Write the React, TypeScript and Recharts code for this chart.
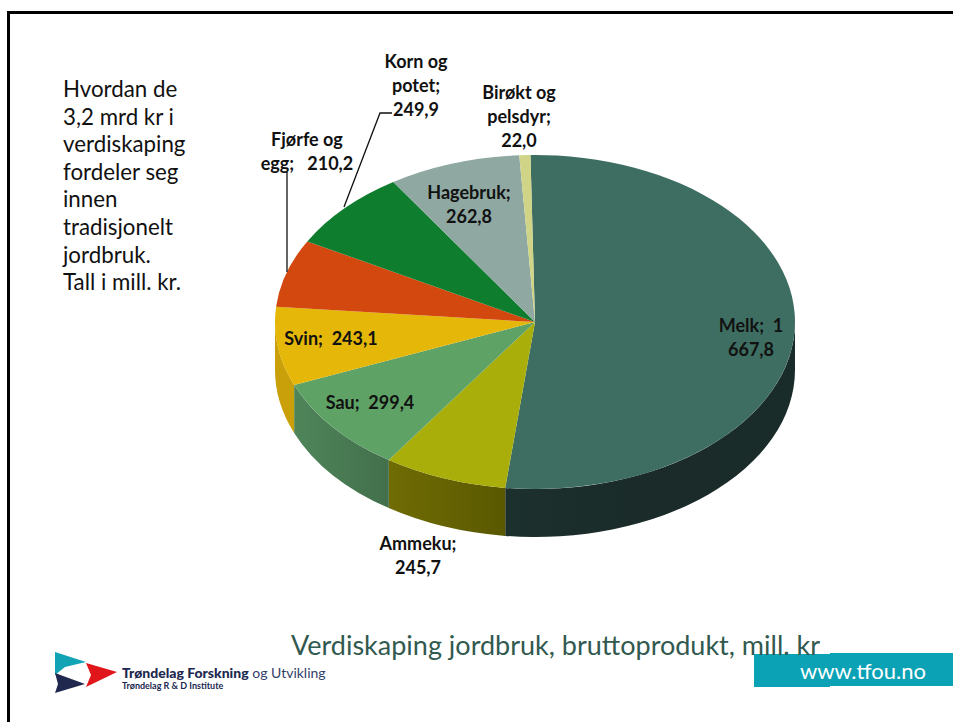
import React from "react";
import { PieChart, Pie, Cell } from "recharts";

const categories = ["Melk", "Ammeku", "Sau", "Svin", "Fjørfe og egg", "Korn og potet", "Hagebruk", "Birøkt og pelsdyr"];
const values = [1667.8, 245.7, 299.4, 243.1, 210.2, 249.9, 262.8, 22.0];
const labelLines = [
  ["Melk;  1", "667,8"],
  ["Ammeku;", "245,7"],
  ["Sau;  299,4"],
  ["Svin;  243,1"],
  ["Fjørfe og", "egg;   210,2"],
  ["Korn og", "potet;", "249,9"],
  ["Hagebruk;", "262,8"],
  ["Birøkt og", "pelsdyr;", "22,0"],
];
const introLines = ["Hvordan de", "3,2 mrd kr i", "verdiskaping", "fordeler seg", "innen", "tradisjonelt", "jordbruk.", "Tall i mill. kr."];
const titleText = "Verdiskaping jordbruk, bruttoprodukt, mill. kr";
const siteText = "www.tfou.no";

const topColors = ["#3e6e62", "#a9ae0a", "#5fa266", "#e5b708", "#d2480f", "#0f7d2e", "#8fa8a2", "#cfd486"];
const wallFills = ["url(#wMelk)", "url(#wAmme)", "url(#wSau)", "#c99f0a", "#a33a0c", "#0b5c22", "#6d807b", "#9ea266"];

const CX = 535;
const CY = 322;
const RX = 260;
const RY = 167;
const DEPTH = 48;
const START = 91;
const labelCenters: [number, number][] = [[751, 326], [418, 544], [370, 403], [331, 339], [307, 140], [416, 62], [469, 193], [519, 93]];
const LINE_GAP = 24;

const data = categories.map((name, i) => ({ name, value: values[i] }));
const ptAt = (deg: number, dy = 0) => {
  const a = (deg * Math.PI) / 180;
  return [CX + RX * Math.cos(a), CY - RY * Math.sin(a) + dy];
};

const TopSector = (p: any) => {
  const [x1, y1] = ptAt(p.startAngle);
  const [x2, y2] = ptAt(p.endAngle);
  const large = Math.abs(p.startAngle - p.endAngle) > 180 ? 1 : 0;
  return <path d={`M${CX},${CY}L${x1},${y1}A${RX},${RY} 0 ${large} 1 ${x2},${y2}Z`} fill={p.fill} stroke="none" />;
};

const WallSector = (p: any) => {
  // Recharts angles run clockwise (decreasing); the visible wall is the 180..360 span.
  const hi = p.startAngle;
  const lo = p.endAngle;
  const spans: [number, number][] = [];
  for (const k of [-360, 0, 360]) {
    const a = Math.min(hi, 360 + k);
    const b = Math.max(lo, 180 + k);
    if (a > b) spans.push([a, b]);
  }
  if (!spans.length) return <g />;
  return (
    <g>
      {spans.map(([a, b], i) => {
        const [x1, y1] = ptAt(a);
        const [x2, y2] = ptAt(b);
        const [x3, y3] = ptAt(b, DEPTH);
        const [x4, y4] = ptAt(a, DEPTH);
        return (
          <path
            key={i}
            d={`M${x1},${y1}A${RX},${RY} 0 0 1 ${x2},${y2}L${x3},${y3}A${RX},${RY} 0 0 0 ${x4},${y4}Z`}
            fill={p.fill}
            stroke="none"
          />
        );
      })}
    </g>
  );
};

const renderLabel = (p: any) => {
  const i = p.index;
  const [x, y] = labelCenters[i];
  return (
    <g key={i}>
      {i === 4 && <polyline points="287,172 287,272" fill="none" stroke="#111" strokeWidth={1.3} />}
      {i === 5 && <polyline points="344,207 380,113 392,113" fill="none" stroke="#111" strokeWidth={1.3} />}
      <text x={x} textAnchor="middle" fontFamily="Lato" fontWeight={700} fontSize={18} fill="#111" style={{ whiteSpace: "pre" }}>
        {labelLines[i].map((t, k) => (
          <tspan key={k} x={x} y={y + k * LINE_GAP + 6}>{t}</tspan>
        ))}
      </text>
    </g>
  );
};

const abs = (style: React.CSSProperties): React.CSSProperties => ({ position: "absolute", whiteSpace: "pre", ...style });

export default function App() {
  return (
    <div style={{ position: "absolute", left: 0, top: 0, width: 953, height: 722, background: "#fff", overflow: "hidden" }}>
      <svg width={953} height={722} style={{ position: "absolute", left: 0, top: 0 }}>
        <defs>
          <linearGradient id="wMelk" gradientUnits="userSpaceOnUse" x1="505" x2="795" y1="0" y2="0">
            <stop offset="0" stopColor="#1c302e" />
            <stop offset="0.5" stopColor="#1a2b29" />
            <stop offset="1" stopColor="#1a2c2a" />
          </linearGradient>
          <linearGradient id="wAmme" gradientUnits="userSpaceOnUse" x1="390" x2="506" y1="0" y2="0">
            <stop offset="0" stopColor="#6f6c05" />
            <stop offset="1" stopColor="#5a5800" />
          </linearGradient>
          <linearGradient id="wSau" gradientUnits="userSpaceOnUse" x1="295" x2="390" y1="0" y2="0">
            <stop offset="0" stopColor="#4f8459" />
            <stop offset="1" stopColor="#42704c" />
          </linearGradient>
        </defs>
        <polyline points="8.5,722 8.5,12.5 953,12.5" fill="none" stroke="#000" strokeWidth={3} />
        <polygon points="55,652 86,662 65,667 55,675" fill="#12a4b4" />
        <polygon points="86,663 117,672 86,687 91,675" fill="#e0161b" />
        <polygon points="55,673 85,684 55,693 58,684" fill="#20284f" />
        <rect x={754} y={654} width={76} height={33} fill="#0ba2b5" />
        <rect x={830} y={653} width={123} height={33} fill="#0ba2b5" />
      </svg>

      <div style={abs({ left: 0, top: 0 })}>
        <PieChart width={953} height={722} margin={{ top: 0, right: 0, bottom: 0, left: 0 }}>
          <Pie
            data={data}
            dataKey="value"
            nameKey="name"
            cx={CX}
            cy={CY}
            innerRadius={0}
            outerRadius={RX}
            startAngle={START}
            endAngle={START - 360}
            stroke="none"
            isAnimationActive={false}
            shape={WallSector}
          >
            {data.map((d, i) => <Cell key={d.name} fill={wallFills[i]} />)}
          </Pie>
          <Pie
            data={data}
            dataKey="value"
            nameKey="name"
            cx={CX}
            cy={CY}
            innerRadius={0}
            outerRadius={RX}
            startAngle={START}
            endAngle={START - 360}
            stroke="none"
            isAnimationActive={false}
            shape={TopSector}
            label={renderLabel}
            labelLine={false}
          >
            {data.map((d, i) => <Cell key={d.name} fill={topColors[i]} />)}
          </Pie>
        </PieChart>
      </div>

      {introLines.map((t, i) => (
        <div key={t} style={abs({ left: 63, top: 75 + i * 27.6, fontFamily: "Lato", fontSize: 22.3, lineHeight: "27px", color: "#111" })}>{t}</div>
      ))}
      <div style={abs({ left: 291, top: 627, fontFamily: "Lato", fontSize: 27, lineHeight: "36px", color: "#32594f" })}>{titleText}</div>
      <div style={abs({ left: 800, top: 656, fontFamily: "Lato", fontSize: 22, lineHeight: "30px", color: "#fff" })}>{siteText}</div>
      <div style={abs({ left: 122, top: 664, fontFamily: "Lato", fontSize: 14, lineHeight: "18px", color: "#20284f" })}>
        <b style={{ fontWeight: 900 }}>Trøndelag Forskning</b> <span style={{ color: "#33406a" }}>og Utvikling</span>
      </div>
      <div style={abs({ left: 122, top: 680, fontFamily: "Lato", fontWeight: 700, fontSize: 9, lineHeight: "12px", color: "#20284f" })}>Trøndelag R & D Institute</div>
    </div>
  );
}
